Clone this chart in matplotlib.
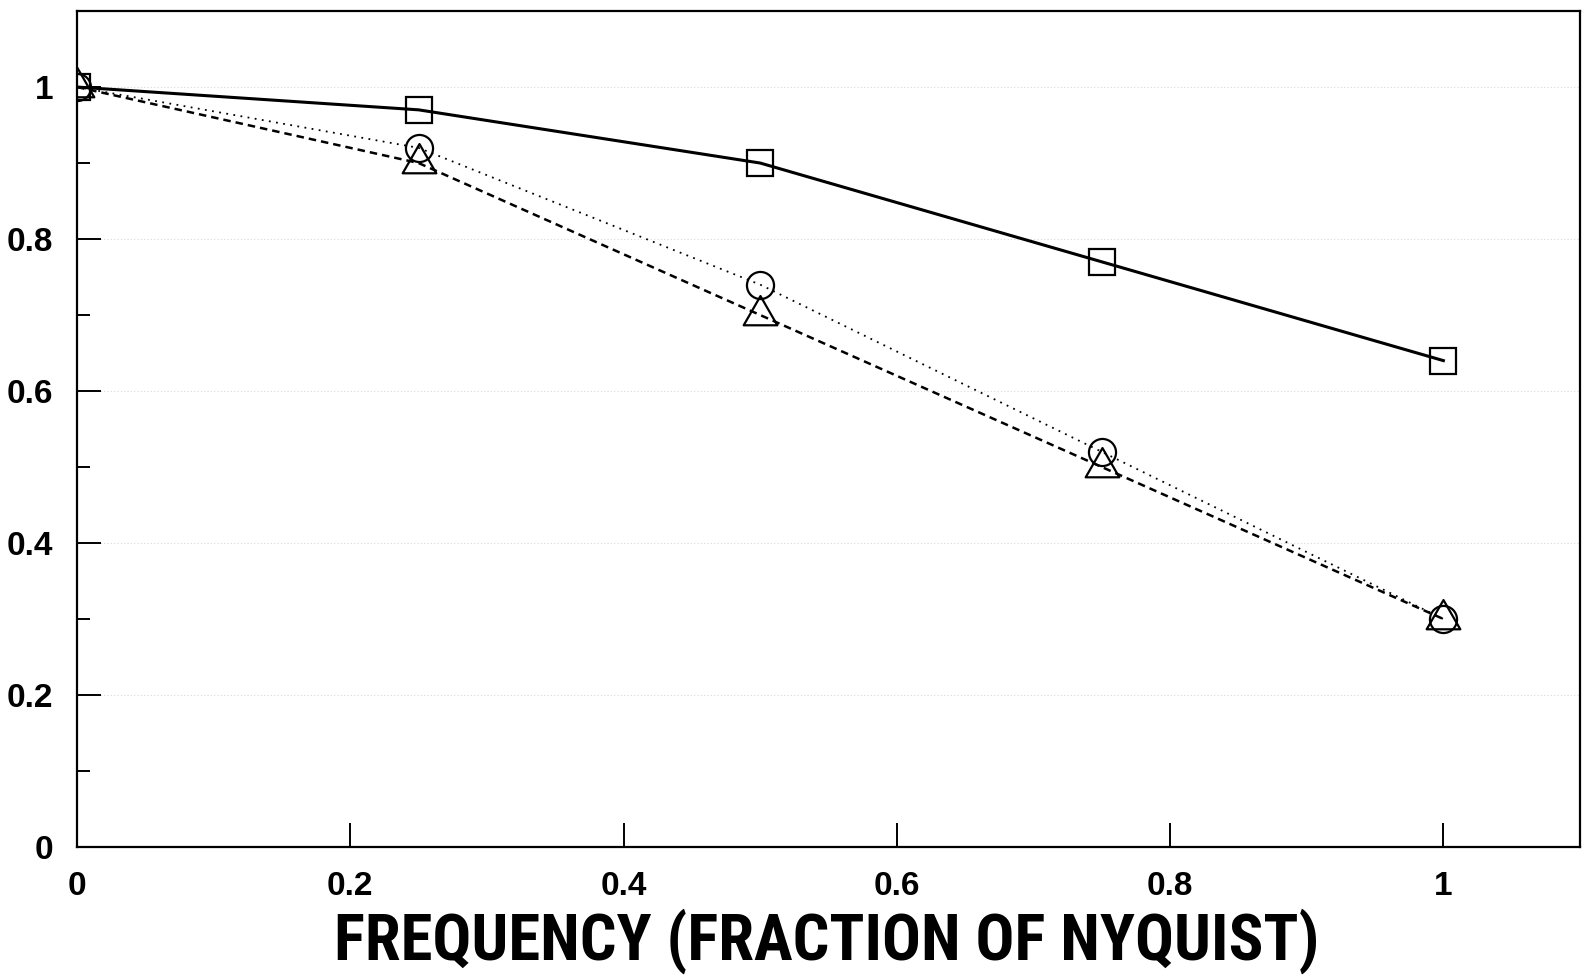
import matplotlib
matplotlib.use('Agg')
import matplotlib.pyplot as plt
from matplotlib import font_manager
from matplotlib.path import Path
from matplotlib.ticker import MultipleLocator, FixedLocator

# Dane
czestotliwosc = [0.0, 0.25, 0.5, 0.75, 1.0]
seria_kwadraty = [1.0, 0.97, 0.90, 0.77, 0.64]
seria_kola = [1.0, 0.92, 0.74, 0.52, 0.30]
seria_trojkaty = [1.0, 0.90, 0.70, 0.50, 0.30]

x_ticks = [0, 0.2, 0.4, 0.6, 0.8, 1.0]
x_tick_labels = ['0', '0.2', '0.4', '0.6', '0.8', '1']
y_ticks = [0, 0.2, 0.4, 0.6, 0.8, 1.0]
y_tick_labels = ['0', '0.2', '0.4', '0.6', '0.8', '1']
x_label = 'FREQUENCY (FRACTION OF NYQUIST)'


def font_dostepny(nazwa):
    try:
        font_manager.findfont(font_manager.FontProperties(family=nazwa),
                              fallback_to_default=False)
        return True
    except Exception:
        return False


font_ticks = 'Liberation Sans' if font_dostepny('Liberation Sans') else 'DejaVu Sans'

# napis osi X jest w oryginale zwezony - szukamy kroju "narrow"
font_label = None
rozmiar_label = 38.5
for kandydat, rozmiar in [('Liberation Sans Narrow', 45), ('Arial Narrow', 45),
                          ('Roboto Condensed', 46.5), ('DejaVu Sans Condensed', 40),
                          ('Open Sans Condensed', 45)]:
    if font_dostepny(kandydat):
        font_label = kandydat
        rozmiar_label = rozmiar
        break
if font_label is None:
    font_label = font_ticks

# trojkat z centroidem w punkcie danych
trojkat = Path([(-1.15, -0.67), (1.15, -0.67), (0.0, 1.33), (-1.15, -0.67)],
               [Path.MOVETO, Path.LINETO, Path.LINETO, Path.CLOSEPOLY])


def main():
    fig = plt.figure(figsize=(15.83, 9.77), dpi=100)
    ax = fig.add_axes([0.0486, 0.1331, 0.9495, 0.8556])

    ax.plot(czestotliwosc, seria_kwadraty, color='black', linestyle='-', linewidth=2.2,
            marker='s', markersize=18.5, fillstyle='none', markeredgewidth=1.6)
    ax.plot(czestotliwosc, seria_kola, color='black', linestyle=(0, (1, 3)), linewidth=1.3,
            marker='o', markersize=19.5, fillstyle='none', markeredgewidth=1.6)
    ax.plot(czestotliwosc, seria_trojkaty, color='black', linestyle=(0, (3, 2)), linewidth=1.8,
            marker=trojkat, markersize=28, fillstyle='none', markeredgewidth=1.6)

    ax.set_xlim(0, 1.1)
    ax.set_ylim(0, 1.1)

    ax.xaxis.set_major_locator(FixedLocator(x_ticks))
    ax.set_xticklabels(x_tick_labels)
    ax.yaxis.set_major_locator(FixedLocator(y_ticks))
    ax.set_yticklabels(y_tick_labels)
    ax.yaxis.set_minor_locator(MultipleLocator(0.1))

    ax.tick_params(axis='both', which='major', direction='in', length=17, width=1.4,
                   pad=17, labelsize=24)
    ax.tick_params(axis='y', which='minor', direction='in', length=9, width=1.4)
    ax.tick_params(top=False, right=False)
    for lbl in ax.get_xticklabels() + ax.get_yticklabels():
        lbl.set_fontfamily(font_ticks)
        lbl.set_fontweight('bold')

    for sp in ax.spines.values():
        sp.set_linewidth(1.6)

    # slabe linie siatki (jak na skanie)
    ax.grid(axis='y', which='major', color='#d8d8d8', linestyle=(0, (1, 2)), linewidth=0.8)
    ax.set_axisbelow(True)

    fig.text(0.5225, 0.0174, x_label, ha='center', va='baseline',
             fontsize=rozmiar_label, fontweight='bold', family=font_label)

    fig.savefig('out.png', dpi=100)


if __name__ == "__main__":
    main()
